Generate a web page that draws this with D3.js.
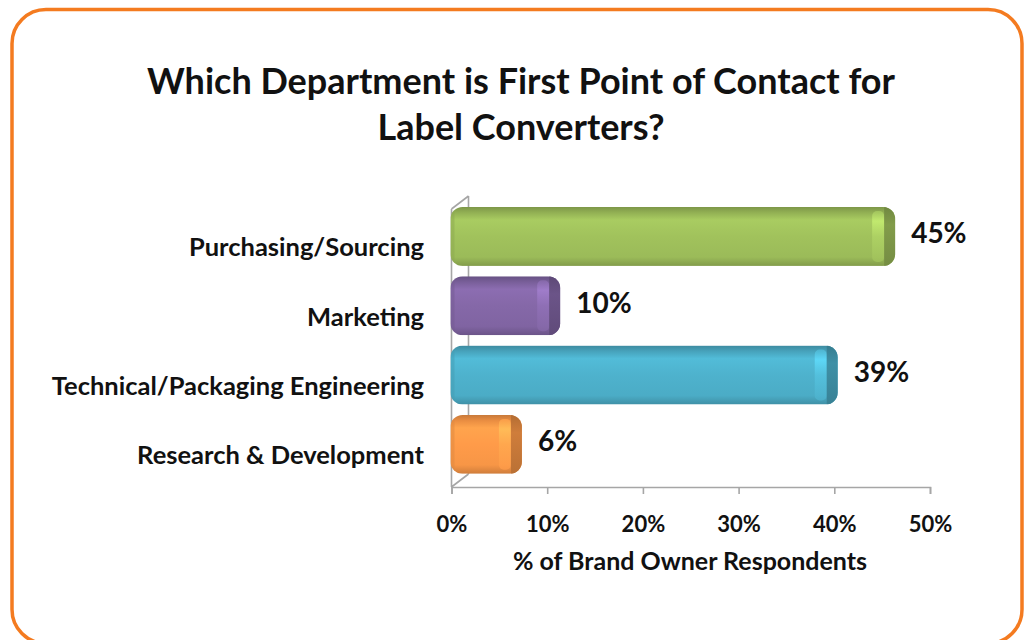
<!DOCTYPE html>
<html>
<head>
<meta charset="utf-8">
<script src="https://cdn.jsdelivr.net/npm/d3@7"></script>
<style>
  html, body { margin: 0; padding: 0; background: #ffffff; }
  svg { display: block; }
  text { font-family: Lato, "Open Sans", sans-serif; font-weight: 700; fill: #111; }
</style>
</head>
<body>
<svg id="chart" width="1024" height="640"></svg>
<script>
// Survey results: first point of contact for label converters
const categories = ["Purchasing/Sourcing", "Marketing", "Technical/Packaging Engineering", "Research & Development"];
const values = [0.45, 0.10, 0.39, 0.06];
const barColors = ["#9bbb59", "#8064a2", "#4bacc6", "#f79646"];
const tickValues = [0, 0.1, 0.2, 0.3, 0.4, 0.5];
const titleLines = ["Which Department is First Point of Contact for", "Label Converters?"];
const axisTitle = "% of Brand Owner Respondents";

const svg = d3.select("#chart");

// Rounded orange frame
svg.append("rect")
  .attr("x", 12).attr("y", 9.5)
  .attr("width", 1010).attr("height", 634)
  .attr("rx", 34).attr("ry", 34)
  .attr("fill", "#fff")
  .attr("stroke", "#f47b20").attr("stroke-width", 3.5);

// Title
svg.selectAll("text.title").data(titleLines).join("text")
  .attr("class", "title")
  .attr("x", 521).attr("y", (d, i) => 94 + i * 46)
  .attr("text-anchor", "middle")
  .attr("font-size", 36)
  .text(d => d);

// Scales
const x = d3.scaleLinear().domain([0, 0.5]).range([451.5, 930]);
const y = d3.scaleBand().domain(categories).range([196.6, 484.2]).padding(0.15);
const depth = 13;                 // visible end-cap depth of each bar
const wallDx = 17, wallDy = 13;   // perspective offset of the back wall

// Left wall (3-D frame)
const y0 = 487, yTop = 196;
svg.append("path")
  .attr("stroke", "#a6a6a6").attr("stroke-width", 1.6).attr("fill", "none")
  .attr("d",
    `M${x(0)},${yTop + wallDy} L${x(0)},${y0} ` +
    `M${x(0) + wallDx},${yTop} L${x(0) + wallDx},${y0 - wallDy} ` +
    `M${x(0)},${yTop + wallDy} L${x(0) + wallDx},${yTop} ` +
    `M${x(0)},${y0} L${x(0) + wallDx},${y0 - wallDy}`);

// X axis
const xAxis = d3.axisBottom(x).tickValues(tickValues).tickFormat(d3.format(".0%")).tickSize(7);
const gx = svg.append("g").attr("transform", `translate(0,${y0})`).call(xAxis);
gx.select(".domain").attr("stroke", "#a6a6a6").attr("stroke-width", 1.6);
gx.selectAll(".tick line").attr("stroke", "#a6a6a6").attr("stroke-width", 1.6);
gx.selectAll(".tick text")
  .attr("y", 45).attr("dy", null)
  .attr("font-size", 22).attr("font-family", "Lato, sans-serif")
  .attr("font-weight", 700).attr("fill", "#111");

// Axis title
svg.append("text").attr("x", 690).attr("y", 570).attr("text-anchor", "middle")
  .attr("font-size", 25).text(axisTitle);

// Category labels
svg.selectAll("text.cat").data(categories).join("text")
  .attr("class", "cat")
  .attr("x", 424).attr("y", d => y(d) + y.bandwidth() / 2 + 20)
  .attr("text-anchor", "end").attr("font-size", 25.5)
  .text(d => d);

// Gradients for the glossy bars
const defs = svg.append("defs");
barColors.forEach((c, i) => {
  const base = d3.color(c);
  const g = defs.append("linearGradient").attr("id", "body" + i)
    .attr("x1", 0).attr("y1", 0).attr("x2", 0).attr("y2", 1);
  [[0, base.darker(0.6)], [0.1, base.darker(0.15)], [0.22, base.brighter(0.25)],
   [0.5, base.brighter(0.1)], [0.85, base], [1, base.darker(0.5)]]
    .forEach(([o, col]) => g.append("stop").attr("offset", o).attr("stop-color", col.formatHex()));
  const cap = defs.append("linearGradient").attr("id", "cap" + i)
    .attr("x1", 0).attr("y1", 0).attr("x2", 0).attr("y2", 1);
  [[0, base.darker(0.9)], [0.3, base.darker(0.5)], [1, base.darker(0.8)]]
    .forEach(([o, col]) => cap.append("stop").attr("offset", o).attr("stop-color", col.formatHex()));
  const hl = defs.append("linearGradient").attr("id", "hl" + i)
    .attr("x1", 0).attr("y1", 0).attr("x2", 0).attr("y2", 1);
  [[0, base.brighter(0.2)], [0.2, base.brighter(0.7)], [0.5, base.brighter(0.35)], [1, base.brighter(0.1)]]
    .forEach(([o, col]) => hl.append("stop").attr("offset", o).attr("stop-color", col.formatHex()));
  defs.append("clipPath").attr("id", "clip" + i).append("rect")
    .attr("x", x(0) - 1).attr("y", y(categories[i]))
    .attr("width", x(values[i]) - x(0) + depth + 1).attr("height", y.bandwidth())
    .attr("rx", 12).attr("ry", 12);
});

// Bars
const bars = svg.selectAll("g.bar").data(categories).join("g").attr("class", "bar");
bars.each(function (d, i) {
  const g = d3.select(this);
  const bx = x(0) - 1, by = y(d), bw = x(values[i]) - x(0) + depth + 1, bh = y.bandwidth();
  const inner = g.append("g").attr("clip-path", `url(#clip${i})`);
  inner.append("rect").attr("x", bx).attr("y", by).attr("width", bw).attr("height", bh)
    .attr("fill", `url(#body${i})`);
  // left rounded edge shading
  inner.append("rect").attr("x", bx).attr("y", by).attr("width", 4).attr("height", bh)
    .attr("fill", d3.color(barColors[i]).darker(0.3).formatHex()).attr("opacity", 0.5);
  // highlight strip before the end cap
  inner.append("rect").attr("x", x(values[i]) - 10).attr("y", by + 4).attr("width", 12).attr("height", bh - 8)
    .attr("rx", 5).attr("fill", `url(#hl${i})`).attr("opacity", 0.8);
  // darker end cap
  inner.append("rect").attr("x", x(values[i]) + 2).attr("y", by).attr("width", depth).attr("height", bh)
    .attr("fill", `url(#cap${i})`);
});

// Value labels
svg.selectAll("text.val").data(categories).join("text")
  .attr("class", "val")
  .attr("x", (d, i) => x(values[i]) + depth + 16)
  .attr("y", d => y(d) + y.bandwidth() / 2 + 7)
  .attr("font-size", 28)
  .text((d, i) => d3.format(".0%")(values[i]));
</script>
</body>
</html>
